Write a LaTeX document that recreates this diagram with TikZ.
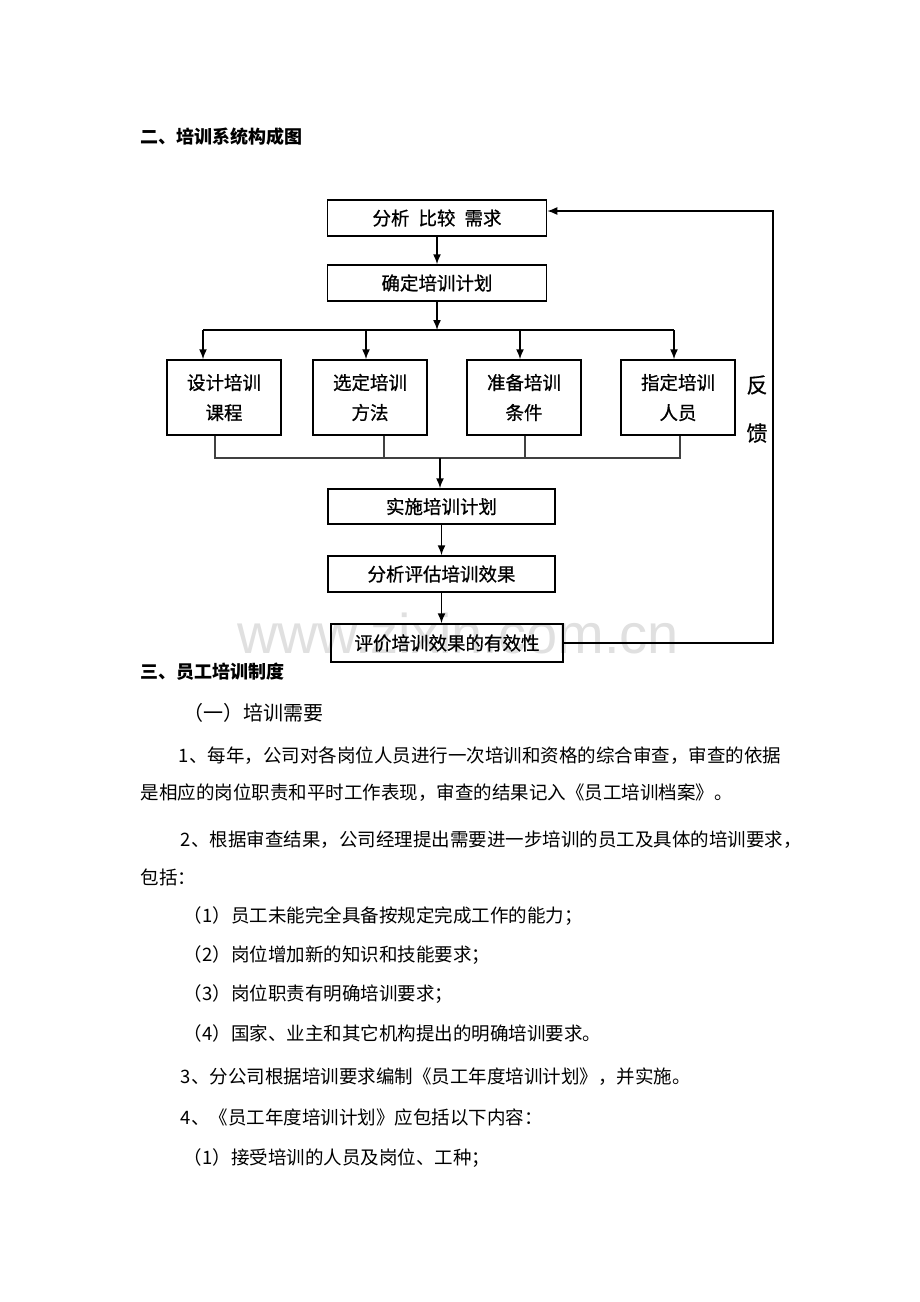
\documentclass[tikz,border=0pt]{standalone}
\usepackage{fontspec}
\setmainfont{Noto Sans CJK SC}
\newfontfamily\wmfont{Liberation Sans}
\newfontfamily\heavyfont[FakeBold=0.8]{Noto Sans CJK SC}
\usetikzlibrary{arrows.meta}
\newcommand{\boxtext}{\heavyfont\fontsize{18.5}{30}\selectfont}
\newcommand{\bodytext}{\fontsize{18.5}{24}\selectfont}
\newcommand{\headtext}{\bfseries\fontsize{18}{24}\selectfont}
\newcommand{\flowbox}[5]{
	\node [draw, minimum width=#3, minimum height=#4, align=center, font=\boxtext] (#1) at (#2) {#5};}
\newcommand{\docline}[4]{
	\node [anchor=west, inner sep=0pt, font=#4] (#1) at (#2) {#3};}

\begin{document}
\begin{tikzpicture}[auto,>={Latex[length=10pt,width=8pt]},x=1pt,y=-1pt,line width=1.5pt]
	\useasboundingbox (0,0) rectangle (920,1302);
	\node [inner sep=0pt, font=\wmfont\fontsize{56}{56}\selectfont, text=black!12] (mark) at (458,633) {www.zixin.com.cn};
	\docline{title2}{140,137}{二、培训系统构成图}{\headtext}
	\flowbox{need}{437,218}{219pt}{36pt}{分析\hspace{9pt}比较\hspace{9pt}需求}
	\flowbox{plan}{437,283}{219pt}{36pt}{确定培训计划}
	\flowbox{design}{224,397.5}{114pt}{75pt}{设计培训\\课程}
	\flowbox{method}{370,397.5}{114pt}{75pt}{选定培训\\方法}
	\flowbox{prepare}{524,397.5}{114pt}{75pt}{准备培训\\条件}
	\flowbox{tutor}{678,397.5}{114pt}{75pt}{指定培训\\人员}
	\flowbox{run}{441.5,506.5}{227pt}{35pt}{实施培训计划}
	\flowbox{assess}{441.5,574}{227pt}{36pt}{分析评估培训效果}
	\flowbox{check}{447,643}{232pt}{38pt}{评价培训效果的有效性}
	\node [font=\heavyfont\fontsize{21}{21}\selectfont] (fan) at (757,385) {反};
	\node [font=\heavyfont\fontsize{21}{21}\selectfont] (kui) at (757,433) {馈};
	\draw [->] (need.south) -- (need.south |- plan.north);
	\coordinate (split) at (437,330);
	\coordinate (b1) at (203,330);
	\coordinate (b2) at (366,330);
	\coordinate (b3) at (520,330);
	\coordinate (b4) at (674,330);
	\draw [->] (plan.south) -- (split);
	\draw (b1) -- (b4);
	\draw [->] (b1) -- (b1 |- design.north);
	\draw [->] (b2) -- (b2 |- method.north);
	\draw [->] (b3) -- (b3 |- prepare.north);
	\draw [->] (b4) -- (b4 |- tutor.north);
	\coordinate (j1) at (215,458);
	\coordinate (j2) at (384,458);
	\coordinate (j3) at (525,458);
	\coordinate (j4) at (680,458);
	\coordinate (merge) at (440,458);
	\draw [line width=1.1pt, black!75] (j1 |- design.south) -- (j1) -- (j4) -- (j4 |- tutor.south);
	\draw [line width=1.1pt, black!75] (j2 |- method.south) -- (j2);
	\draw [line width=1.1pt, black!75] (j3 |- prepare.south) -- (j3);
	\draw [->] (merge) -- (merge |- run.north);
	\draw [->] (run) -- (assess);
	\draw [->] (assess.south) -- (assess.south |- check.north);
	\coordinate (fb) at (773,211);
	\draw [->] (check.east) -| (fb) -- (fb -| need.east);
	\docline{title3}{140,672}{三、员工培训制度}{\headtext}
	\docline{sub1}{183,713}{（一）培训需要}{\fontsize{20}{24}\selectfont}
	\docline{p1a}{178,756}{1、每年，公司对各岗位人员进行一次培训和资格的综合审查，审查的依据}{\bodytext}
	\docline{p1b}{140,793}{是相应的岗位职责和平时工作表现，审查的结果记入《员工培训档案》。}{\bodytext}
	\docline{p2a}{180,840}{2、根据审查结果，公司经理提出需要进一步培训的员工及具体的培训要求，}{\bodytext}
	\docline{p2b}{140,877}{包括：}{\bodytext}
	\docline{i1}{183,916}{（1）员工未能完全具备按规定完成工作的能力；}{\bodytext}
	\docline{i2}{183,955}{（2）岗位增加新的知识和技能要求；}{\bodytext}
	\docline{i3}{183,994}{（3）岗位职责有明确培训要求；}{\bodytext}
	\docline{i4}{183,1033}{（4）国家、业主和其它机构提出的明确培训要求。}{\bodytext}
	\docline{p3}{180,1077}{3、分公司根据培训要求编制《员工年度培训计划》，并实施。}{\bodytext}
	\docline{p4}{180,1117}{4、《员工年度培训计划》应包括以下内容：}{\bodytext}
	\docline{i5}{183,1158}{（1）接受培训的人员及岗位、工种；}{\bodytext}
\end{tikzpicture}
\end{document}
